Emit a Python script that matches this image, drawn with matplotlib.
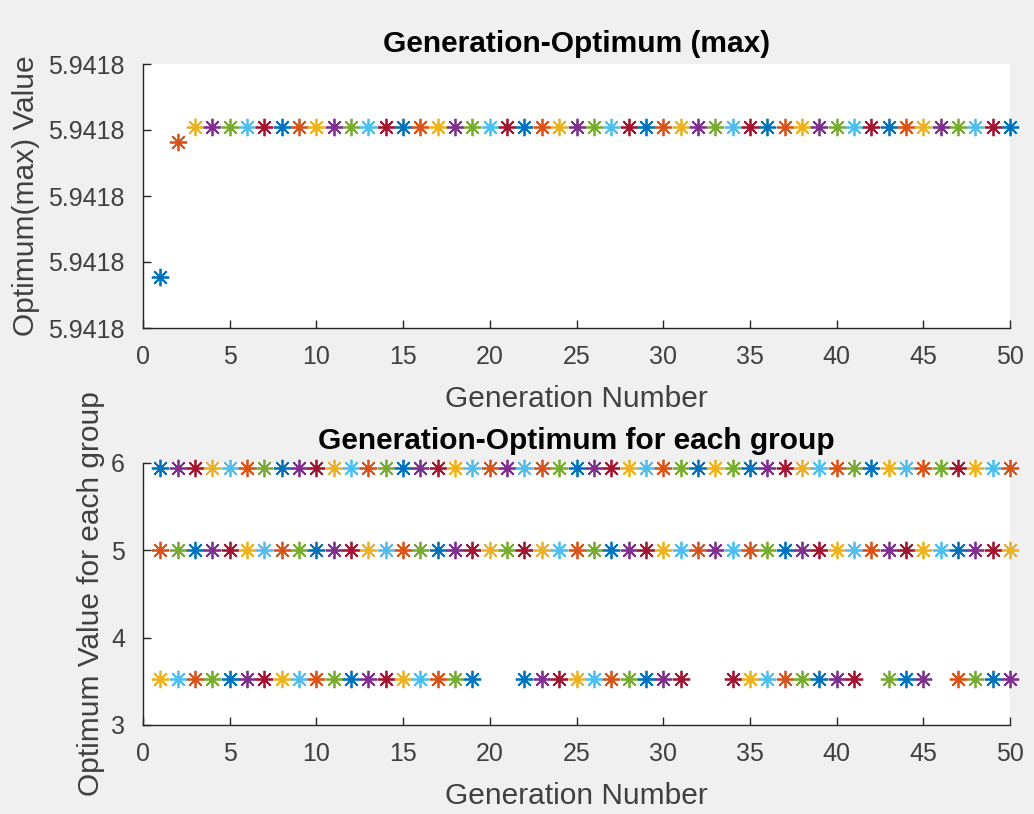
import numpy as np
import matplotlib
matplotlib.use("Agg")
import matplotlib.pyplot as plt
from matplotlib.ticker import FormatStrFormatter

plt.rcParams['font.family'] = ['Liberation Sans', 'DejaVu Sans']

generations = list(range(1, 51))
best_value = [5.9417877, 5.9418082] + [5.9418105] * 48

# optimum of each group per generation (None = not present)
group_high = [5.9418] * 50
group_mid = [5.0] * 50
group_low = [3.527] * 19 + [None, None] + [3.527] * 10 + [None, None] + \
            [3.527] * 8 + [None] + [3.527] * 3 + [None] + [3.527] * 4

top_yticks = [5.94178, 5.94179, 5.94180, 5.94181, 5.94182]
x_ticks = list(range(0, 51, 5))

colors = ['#0072BD', '#D95319', '#EDB120', '#7E2F8E', '#77AC30', '#4DBEEE', '#A2142F']

fig = plt.figure(figsize=(10.34, 8.14), dpi=100, facecolor='#F0F0F0')
W, H = 1034, 814
ax1 = fig.add_axes([143 / W, 1 - 328 / H, (1010 - 143) / W, (328 - 64) / H])
ax2 = fig.add_axes([143 / W, 1 - 725 / H, (1010 - 143) / W, (725 - 463) / H])

mk = (8, 2, 0)
ms = 12.5
mew = 1.3

for i, (g, v) in enumerate(zip(generations, best_value)):
    ax1.plot([g], [v], linestyle='none', marker=mk, ms=ms, mew=mew,
             color=colors[i % 7], clip_on=False)

k = 0
for g, a, b, c in zip(generations, group_high, group_mid, group_low):
    for v in (a, b, c):
        if v is None:
            continue
        ax2.plot([g], [v], linestyle='none', marker=mk, ms=ms, mew=mew,
                 color=colors[k % 7], clip_on=False)
        k += 1

axc = '#262626'
for ax in (ax1, ax2):
    ax.set_facecolor('white')
    ax.set_xlim(0, 50)
    ax.set_xticks(x_ticks)
    for s in ('top', 'right'):
        ax.spines[s].set_visible(False)
    for s in ('left', 'bottom'):
        ax.spines[s].set_color(axc)
        ax.spines[s].set_linewidth(1.0)
    ax.tick_params(direction='in', length=6, width=1.0, colors=axc,
                   labelsize=18, labelcolor='#404040')
    ax.tick_params(axis='x', pad=12)
    ax.tick_params(axis='y', pad=13)
    ax.set_xlabel('Generation Number', fontsize=21.5, color='#404040', labelpad=12)

ax1.set_ylim(top_yticks[0], top_yticks[-1])
ax1.set_yticks(top_yticks)
ax1.yaxis.set_major_formatter(FormatStrFormatter('%.4f'))
ax1.set_ylabel('Optimum(max) Value', fontsize=21.5, color='#404040', labelpad=6)
ax1.set_title('Generation-Optimum (max)', fontsize=21.5, fontweight='bold', pad=9)

ax2.set_ylim(3, 6)
ax2.set_yticks([3, 4, 5, 6])
ax2.set_ylabel('Optimum Value for each group', fontsize=21.5, color='#404040', labelpad=4)
ax2.set_title('Generation-Optimum for each group', fontsize=21.5, fontweight='bold', pad=10)

fig.savefig('out.png', dpi=100, facecolor=fig.get_facecolor())
